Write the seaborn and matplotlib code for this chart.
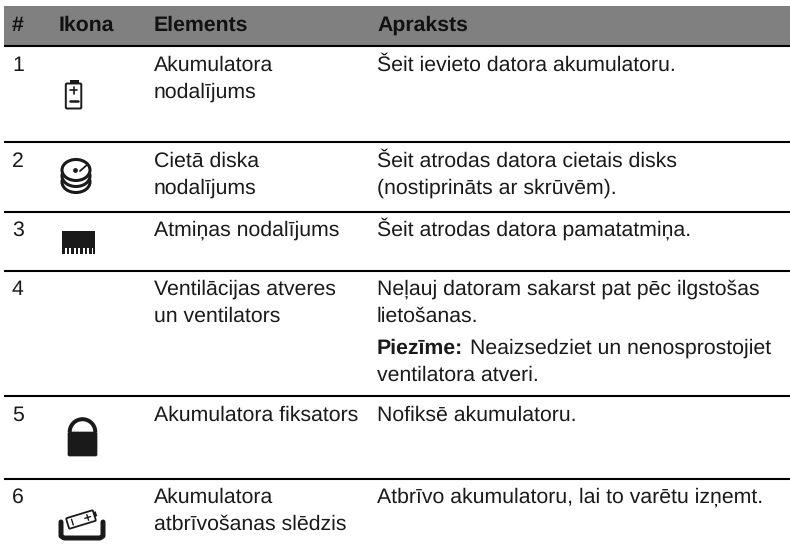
import matplotlib
matplotlib.use('Agg')
import matplotlib.pyplot as plt
import seaborn as sns
from matplotlib.patches import Circle, Ellipse, FancyBboxPatch, Rectangle, Wedge
from matplotlib.transforms import Affine2D

sns.set_theme(style='white')
plt.rcParams['font.family'] = ['Liberation Sans', 'DejaVu Sans']
plt.rcParams['text.hinting'] = 'no_hinting'

headers = ['#', 'Ikona', 'Elements', 'Apraksts']
numbers = ['1', '2', '3', '4', '5', '6']
elements = [
    ['Akumulatora', 'nodalījums'],
    ['Cietā diska', 'nodalījums'],
    ['Atmiņas nodalījums'],
    ['Ventilācijas atveres', 'un ventilators'],
    ['Akumulatora fiksators'],
    ['Akumulatora', 'atbrīvošanas slēdzis'],
]
descriptions = [
    ['Šeit ievieto datora akumulatoru.'],
    ['Šeit atrodas datora cietais disks', '(nostiprināts ar skrūvēm).'],
    ['Šeit atrodas datora pamatatmiņa.'],
    ['Neļauj datoram sakarst pat pēc ilgstošas', 'lietošanas.'],
    ['Nofiksē akumulatoru.'],
    ['Atbrīvo akumulatoru, lai to varētu izņemt.'],
]
note_bold = 'Piezīme:'
note_lines = ['Neaizsedziet un nenosprostojiet', 'ventilatora atveri.']

# layout in pixels of the 790x557 page
col_x = [12, 59, 154, 377]
row_base = [71, 167, 236, 295, 421, 503]
rule_y = [46, 142, 212, 271, 396, 479]
line_gap = 26.7
FS = 15.3
INK = '#1a1a1a'

fig, ax = plt.subplots(figsize=(7.9, 5.57), dpi=100)
fig.subplots_adjust(0, 0, 1, 1)
ax.set_xlim(0, 790)
ax.set_ylim(557, 0)
ax.axis('off')
sns.despine(ax=ax, left=True, bottom=True)

ax.add_patch(Rectangle((4, 6), 786, 39, color='#808080', lw=0))
for y in rule_y:
    ax.plot([4, 790], [y, y], color='black', lw=1.5, solid_capstyle='butt')

for x, h in zip(col_x, headers):
    ax.text(x, 31, h, fontsize=FS, fontweight='bold', color='#111111', va='baseline')

for i, base in enumerate(row_base):
    ax.text(col_x[0], base, numbers[i], fontsize=FS, color=INK, va='baseline')
    for k, line in enumerate(elements[i]):
        ax.text(col_x[2], base + k * line_gap, line, fontsize=FS, color=INK, va='baseline')
    for k, line in enumerate(descriptions[i]):
        ax.text(col_x[3], base + k * line_gap, line, fontsize=FS, color=INK, va='baseline')

ax.text(col_x[3], 354, note_bold, fontsize=FS, fontweight='bold', color=INK, va='baseline')
ax.text(470, 354, note_lines[0], fontsize=FS, color=INK, va='baseline')
ax.text(col_x[3], 381, note_lines[1], fontsize=FS, color=INK, va='baseline')


def box(x, y, w, h, r=1.0, fc='none', ec=INK, lw=1.2):
    p = FancyBboxPatch((x + r, y + r), w - 2 * r, h - 2 * r, boxstyle=f'round,pad={r}',
                       fc=fc, ec=ec, lw=lw)
    ax.add_patch(p)
    return p


# battery
ax.add_patch(Rectangle((69.5, 80), 9, 4, color=INK, lw=0))
box(65.8, 83.5, 15.5, 25, r=1.2, lw=1.4)
ax.plot([70, 77], [90, 90], color=INK, lw=1.2)
ax.plot([73.5, 73.5], [86.5, 93.5], color=INK, lw=1.2)
ax.plot([69.5, 77.5], [100.5, 100.5], color=INK, lw=1.8)

# disk
for cy in [182, 176, 170]:
    ax.add_patch(Ellipse((76, cy), 28, 21, fc='white', ec=INK, lw=2.2))
ax.add_patch(Circle((75.5, 170.5), 2.4, color=INK, lw=0))
ax.plot([80, 88], [171, 164], color=INK, lw=1.3)

# memory module
ax.add_patch(Rectangle((62, 231), 33, 17, color=INK, lw=0))
for tx in [63.5, 68, 72.5, 77, 81.5, 86, 90.5, 94]:
    ax.add_patch(Rectangle((tx - 1.2, 247), 2.4, 7, color=INK, lw=0))

# lock
ax.add_patch(Wedge((82.5, 432), 14.8, 180, 360, width=4, color=INK, lw=0))
box(68, 432, 29, 24, r=1.5, fc=INK, ec=INK, lw=0.5)

# release latch
tilt = Affine2D().rotate_deg_around(81, 519.5, -17) + ax.transData
ax.plot([61, 61, 64, 100, 103, 103], [522, 536, 538, 538, 536, 522], color=INK, lw=3.6,
        solid_joinstyle='round')
p = box(67, 514, 28, 11, r=1.0, lw=1.3)
p.set_transform(tilt)
ax.add_patch(Rectangle((95, 516), 2.5, 5, color=INK, lw=0, transform=tilt))
ax.plot([72, 72], [516.5, 522.5], color=INK, lw=1.0, transform=tilt)
ax.plot([85, 91], [519.5, 519.5], color=INK, lw=1.0, transform=tilt)
ax.plot([88, 88], [516.5, 522.5], color=INK, lw=1.0, transform=tilt)

fig.savefig('out.png', dpi=100)
